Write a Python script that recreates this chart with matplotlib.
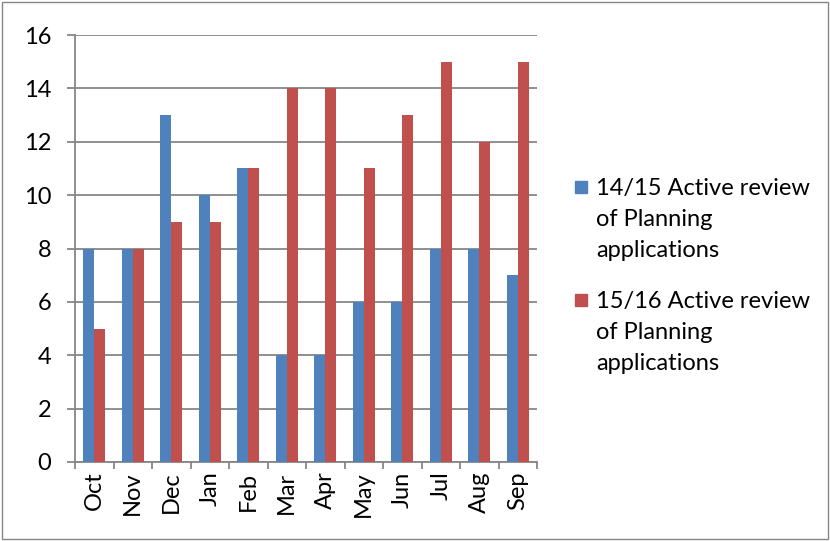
import matplotlib
matplotlib.use("Agg")
import matplotlib.pyplot as plt
import numpy as np
from matplotlib.patches import Rectangle

months = ["Oct", "Nov", "Dec", "Jan", "Feb", "Mar", "Apr", "May", "Jun", "Jul", "Aug", "Sep"]
serie_1415 = [8, 8, 13, 10, 11, 4, 4, 6, 6, 8, 8, 7]
serie_1516 = [5, 8, 9, 9, 11, 14, 14, 11, 13, 15, 12, 15]
etiquetas = ["14/15 Active review\nof Planning\napplications",
             "15/16 Active review\nof Planning\napplications"]

azul = "#4F81BD"
rojo = "#C0504D"
gris = "#868686"
W, H = 830, 541

plt.rcParams['font.family'] = ['Lato', 'DejaVu Sans']

fig = plt.figure(figsize=(8.3, 5.41), dpi=100)
ax = fig.add_axes([75 / W, 1 - 462 / H, (537 - 75) / W, (462 - 35) / H])

x = np.arange(len(months))
w = 0.285
ax.bar(x - w / 2, serie_1415, w, color=azul, zorder=3)
ax.bar(x + w / 2, serie_1516, w, color=rojo, zorder=3)

ax.set_xlim(-0.5, len(months) - 0.5)
ax.set_ylim(0, 16)
ax.set_yticks(range(0, 17, 2))
ax.yaxis.grid(True, color=gris, linewidth=1.3, zorder=0)
ax.set_xticks(x)
ax.set_xticklabels(months, rotation=90, fontsize=17)
ax.set_xticks(np.arange(-0.5, len(months), 1), minor=True)
ax.tick_params(axis='x', which='major', length=0, pad=7)
ax.tick_params(axis='x', which='minor', length=5, color=gris, width=1.3)
ax.tick_params(axis='y', length=6, color=gris, width=1.3, labelsize=17, pad=11)

for lado in ["top", "right"]:
    ax.spines[lado].set_visible(False)
for lado in ["left", "bottom"]:
    ax.spines[lado].set_color(gris)
    ax.spines[lado].set_linewidth(1.3)

# leyenda a mano: cuadrito alineado con la primera linea
for color, texto, base in [(azul, etiquetas[0], 193), (rojo, etiquetas[1], 306)]:
    fig.patches.append(Rectangle((575 / W, 1 - base / H), 12 / W, 12 / H,
                                 transform=fig.transFigure, color=color))
    fig.text(596 / W, 1 - (base + 64) / H, texto, fontsize=17, va="baseline", ha="left",
             linespacing=1.6, color="black")

fig.patches.append(Rectangle((0.002, 0.004), 0.996, 0.992, transform=fig.transFigure,
                             fill=False, edgecolor=gris, linewidth=1.0))

fig.savefig("out.png", dpi=100)
